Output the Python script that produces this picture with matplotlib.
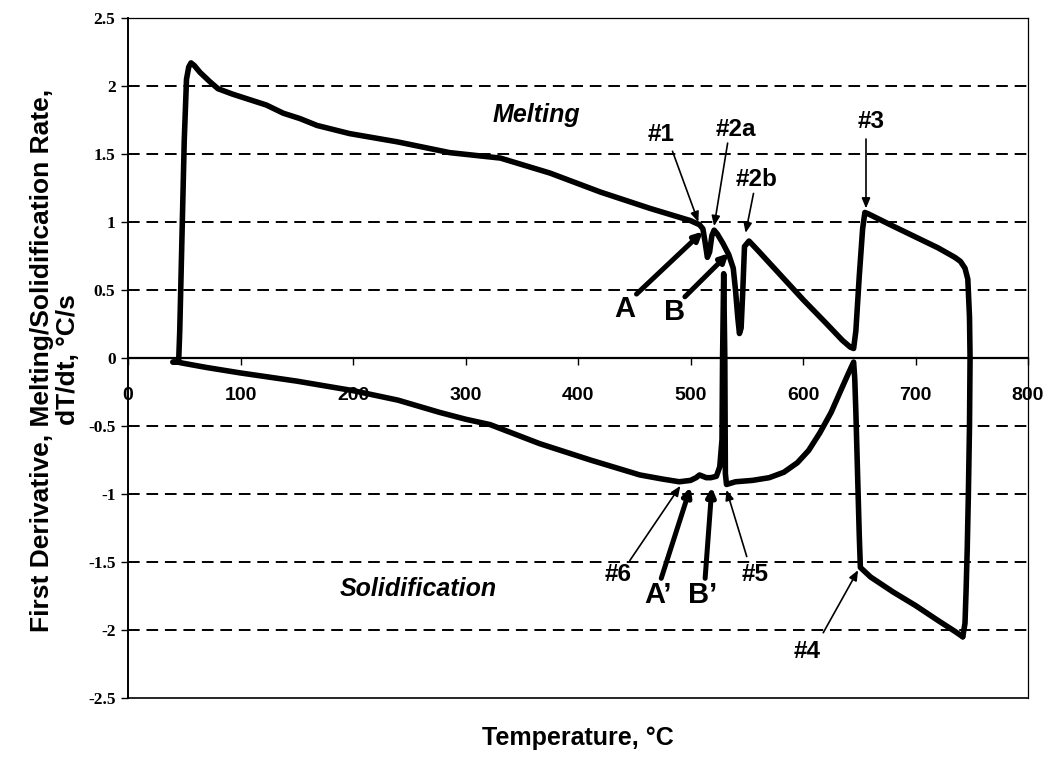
import matplotlib
matplotlib.use("Agg")
import matplotlib.pyplot as plt

# heating branch: temperature (C) and first derivative dT/dt (C/s)
temp_heat = [40, 45, 46, 48, 50, 52, 54, 56, 59, 64, 73, 80, 93, 108, 123, 138, 153,
             168, 197, 239, 286, 331, 375, 420, 464, 500, 508, 511, 513, 515, 517,
             519, 521, 524, 529, 534, 538, 540, 542, 543.5, 545, 546.5, 548, 552,
             560, 580, 600, 620, 635, 642, 645, 647, 650, 653, 655, 658, 680, 700,
             720, 735, 740, 744, 746.5, 748, 748.5, 748, 747, 746, 745, 744, 742]
rate_heat = [-0.03, -0.03, 0.2, 0.9, 1.6, 2.05, 2.14, 2.17, 2.15, 2.10, 2.03, 1.98,
             1.94, 1.90, 1.86, 1.80, 1.76, 1.71, 1.65, 1.59, 1.51, 1.47, 1.36, 1.22,
             1.10, 1.01, 0.98, 0.95, 0.85, 0.74, 0.78, 0.90, 0.94, 0.91, 0.84, 0.76,
             0.66, 0.50, 0.30, 0.18, 0.22, 0.50, 0.82, 0.86, 0.79, 0.61, 0.43, 0.26,
             0.13, 0.08, 0.07, 0.20, 0.60, 0.95, 1.07, 1.06, 0.97, 0.89, 0.81, 0.74,
             0.71, 0.66, 0.58, 0.30, 0.0, -0.5, -1.0, -1.4, -1.7, -1.95, -2.05]

# cooling branch, running back from the bottom-right corner
temp_cool = [742, 735, 720, 700, 680, 660, 651, 650, 649, 648, 647, 646, 645, 640,
             633, 625, 615, 605, 595, 583, 570, 555, 540, 532, 531, 530.5, 529.5,
             528.5, 528, 526, 523, 518, 514, 511, 508, 505, 500, 490, 475, 455, 411,
             366, 322, 300, 277, 240, 200, 150, 100, 70, 50, 44, 40]
rate_cool = [-2.05, -2.01, -1.93, -1.82, -1.72, -1.61, -1.54, -1.30, -1.00, -0.70,
             -0.40, -0.15, -0.03, -0.12, -0.25, -0.40, -0.55, -0.68, -0.77, -0.84,
             -0.88, -0.90, -0.91, -0.93, -0.85, 0.0, 0.62, 0.0, -0.60, -0.80, -0.87,
             -0.88, -0.88, -0.87, -0.86, -0.88, -0.90, -0.91, -0.89, -0.86, -0.75,
             -0.63, -0.49, -0.45, -0.40, -0.31, -0.24, -0.17, -0.11, -0.07, -0.04,
             -0.03, -0.03]

ytick_vals = [-2.5, -2, -1.5, -1, -0.5, 0, 0.5, 1, 1.5, 2, 2.5]
ytick_text = ['-2.5', '-2', '-1.5', '-1', '-0.5', '0', '0.5', '1', '1.5', '2', '2.5']
xtick_vals = [0, 100, 200, 300, 400, 500, 600, 700, 800]

# (label, label x, label y, arrow tail, arrow head, thick arrow?)
marks = [
    ('#1', 474, 1.64, (484, 1.52), (507, 1.00), False),
    ('#2a', 540, 1.68, (533, 1.58), (521, 0.97), False),
    ('#2b', 559, 1.31, (556, 1.21), (549, 0.92), False),
    ('#3', 661, 1.74, (656, 1.61), (656, 1.10), False),
    ('#4', 604, -2.16, (618, -2.02), (649, -1.56), False),
    ('#5', 557, -1.59, (550, -1.46), (532, -0.97), False),
    ('#6', 436, -1.59, (446, -1.49), (491, -0.94), False),
    ('A', 442, 0.36, (452, 0.47), (511, 0.93), True),
    ('B', 486, 0.34, (495, 0.45), (534, 0.77), True),
    ('A\u2019', 471, -1.74, (474, -1.62), (500, -0.95), True),
    ('B\u2019', 511, -1.74, (513, -1.62), (519, -0.95), True),
]

fig = plt.figure(figsize=(10.52, 7.61), dpi=100)
ax = fig.add_axes([128 / 1052, 1 - 698 / 761, 900 / 1052, 680 / 761])

for g in [2, 1.5, 1, 0.5, -0.5, -1, -1.5, -2]:
    ax.axhline(g, color='black', lw=1.4, dashes=(6, 3.5), zorder=1)

ax.plot(temp_heat, rate_heat, color='black', lw=4.0, solid_joinstyle='round',
        solid_capstyle='round', zorder=3)
ax.plot(temp_cool, rate_cool, color='black', lw=4.0, solid_joinstyle='round',
        solid_capstyle='round', zorder=3)

ax.set_xlim(0, 800)
ax.set_ylim(-2.5, 2.5)

# x axis sits on the zero line, the frame is closed underneath
ax.spines['bottom'].set_position(('data', 0))
ax.spines['bottom'].set_linewidth(1.6)
ax.spines['left'].set_linewidth(1.4)
ax.spines['top'].set_linewidth(0.9)
ax.spines['right'].set_linewidth(0.9)
ax.axhline(-2.5, color='black', lw=1.2, clip_on=False, zorder=4)

ax.set_xticks(xtick_vals)
ax.set_xticklabels([str(v) for v in xtick_vals], fontfamily='Liberation Sans',
                   fontweight='bold', fontsize=14)
ax.tick_params(axis='x', direction='out', length=5, width=1, pad=16)
ax.set_yticks(ytick_vals)
ax.set_yticklabels(ytick_text, fontfamily='Liberation Serif', fontweight='bold',
                   fontsize=12.5)
ax.tick_params(axis='y', direction='out', length=5, width=1, pad=4)

ax.text(363, 1.79, 'Melting', fontsize=18, fontweight='bold', fontstyle='italic',
        fontfamily='Liberation Sans', ha='center', va='center')
ax.text(328, -1.70, 'Solidification', fontsize=18, fontweight='bold',
        fontstyle='italic', fontfamily='Liberation Sans', ha='right', va='center')

for label, lx, ly, tail, head, thick in marks:
    ax.text(lx, ly, label, fontsize=21 if thick else 17.5, fontweight='bold',
            fontfamily='Liberation Sans', ha='center', va='center', zorder=5)
    if thick:
        props = dict(arrowstyle='-|>,head_length=0.5,head_width=0.25', lw=3.6,
                     color='black', shrinkA=0, shrinkB=0)
    else:
        props = dict(arrowstyle='-|>,head_length=0.6,head_width=0.25', lw=1.2,
                     color='black', shrinkA=0, shrinkB=0)
    ax.annotate('', xy=head, xytext=tail, arrowprops=props, zorder=5)

fig.text(578 / 1052, 1 - 738 / 761, 'Temperature, \u00b0C', fontsize=18,
         fontweight='heavy', fontfamily='Liberation Sans', ha='center', va='center')
fig.text(55 / 1052, 1 - 360 / 761,
         'First Derivative, Melting/Solidification Rate,\ndT/dt, \u00b0C/s',
         fontsize=19, fontweight='heavy', fontfamily='Liberation Sans',
         ha='center', va='center', rotation=90, multialignment='center',
         linespacing=1.15)

fig.savefig('out.png', dpi=100)
